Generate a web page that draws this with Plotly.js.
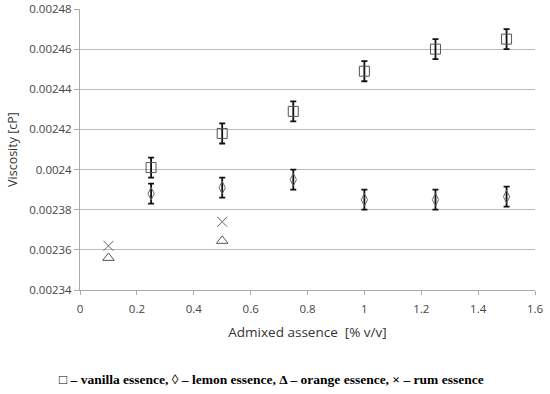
<!DOCTYPE html>
<html><head><meta charset="utf-8">
<script src="https://cdn.plot.ly/plotly-3.0.1.min.js"></script>
<style>html,body{margin:0;padding:0;background:#fff}#chart{width:550px;height:394px}</style>
</head><body><div id="chart"></div>
<script>
const vanillaX = [0.25, 0.5, 0.75, 1.0, 1.25, 1.5];
const vanillaY = [0.002401, 0.002418, 0.002429, 0.002449, 0.002460, 0.002465];
const vanillaErr = [0.000005, 0.000005, 0.000005, 0.000005, 0.000005, 0.000005];
const lemonX = [0.25, 0.5, 0.75, 1.0, 1.25, 1.5];
const lemonY = [0.002388, 0.002391, 0.002395, 0.002385, 0.002385, 0.0023865];
const lemonErr = [0.000005, 0.000005, 0.000005, 0.000005, 0.000005, 0.000005];
const orangeX = [0.1, 0.5];
const orangeY = [0.002356, 0.0023645];
const rumX = [0.1, 0.5];
const rumY = [0.002362, 0.002374];
const yTickVals = [0.00234, 0.00236, 0.00238, 0.0024, 0.00242, 0.00244, 0.00246, 0.00248];
const yTickText = ['0.00234', '0.00236', '0.00238', '0.0024', '0.00242', '0.00244', '0.00246', '0.00248'];
const xTickVals = [0, 0.2, 0.4, 0.6, 0.8, 1, 1.2, 1.4, 1.6];
const xTickText = ['0', '0.2', '0.4', '0.6', '0.8', '1', '1.2', '1.4', '1.6'];
const legendText = '□ – vanilla essence, ◊ – lemon essence, Δ – orange essence, × – rum essence';

const errStyle = {type: 'data', visible: true, color: '#111', thickness: 1.8, width: 3};
const traces = [
  {x: vanillaX, y: vanillaY, mode: 'markers', type: 'scatter', name: 'vanilla',
   error_y: Object.assign({array: vanillaErr}, errStyle),
   marker: {symbol: 'square-open', size: 10, color: '#555', line: {width: 1, color: '#555'}}},
  {x: lemonX, y: lemonY, mode: 'markers', type: 'scatter', name: 'lemon',
   error_y: Object.assign({array: lemonErr}, errStyle),
   marker: {symbol: 'diamond-tall-open', size: 9, color: '#666', line: {width: 1, color: '#666'}}},
  {x: orangeX, y: orangeY, mode: 'markers', type: 'scatter', name: 'orange',
   marker: {symbol: 'triangle-up-open', size: 10, color: '#555', line: {width: 1, color: '#555'}}},
  {x: rumX, y: rumY, mode: 'markers', type: 'scatter', name: 'rum',
   marker: {symbol: 'x-thin-open', size: 10, color: '#666', line: {width: 1, color: '#666'}}}
];
const tickFont = {family: 'Open Sans, Liberation Sans, sans-serif', size: 11.5, color: '#444'};
const titleFont = {family: 'Open Sans, Liberation Sans, sans-serif', size: 12.5, color: '#333'};
const layout = {
  width: 550, height: 394,
  margin: {l: 80, r: 15, t: 9, b: 104},
  paper_bgcolor: '#fff', plot_bgcolor: '#fff',
  showlegend: false,
  xaxis: {range: [0, 1.6], tickvals: xTickVals, ticktext: xTickText, showgrid: false, zeroline: false,
          showline: true, linecolor: '#aaa', linewidth: 1, ticks: 'outside', ticklen: 4, tickcolor: '#aaa',
          tickfont: tickFont, ticklabelstandoff: 4,
          title: {text: 'Admixed assence  [% v/v]', standoff: 12, font: {family: titleFont.family, size: 13.5, color: '#333'}}},
  yaxis: {range: [0.00234, 0.00248], tickvals: yTickVals, ticktext: yTickText, showgrid: true, gridcolor: '#bbb', gridwidth: 1,
          zeroline: false, showline: true, linecolor: '#aaa', linewidth: 1, ticks: 'outside', ticklen: 5, tickcolor: '#aaa',
          tickfont: tickFont,
          title: {text: 'Viscosity [cP]', standoff: 8, font: titleFont}},
  annotations: [{xref: 'paper', yref: 'paper', x: 0.42, y: -0.32, xanchor: 'center', yanchor: 'middle', showarrow: false,
                 text: '<b>' + legendText + '</b>',
                 font: {family: 'Liberation Serif, Times New Roman, serif', size: 13.5, color: '#000'}}]
};
Plotly.newPlot('chart', traces, layout, {displayModeBar: false, staticPlot: true});
</script></body></html>
